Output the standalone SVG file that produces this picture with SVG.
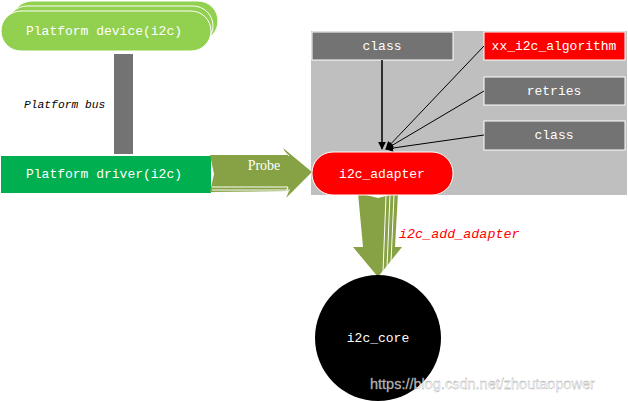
<svg xmlns="http://www.w3.org/2000/svg" width="628" height="401" viewBox="0 0 628 401">
<defs>
<style>
.t{font-family:"Liberation Mono","DejaVu Sans Mono",monospace;font-size:13px;fill:#fff;text-anchor:middle;dominant-baseline:central}
.box{fill:#737373;stroke:#fff;stroke-width:1}
.con{stroke:#000;stroke-width:1;fill:none}
.arr{fill:#86A244}
.st{stroke:#fff;stroke-width:1;fill:none}
</style>
<marker id="ah" viewBox="0 0 10 10" refX="9" refY="5" markerWidth="8" markerHeight="8" orient="auto" markerUnits="userSpaceOnUse"><path d="M0,0 L10,5 L0,10 z" fill="#000"/></marker>
</defs>
<rect width="628" height="401" fill="#fff"/>
<rect x="311" y="31" width="316" height="164" fill="#BFBFBF"/>

<g id="platform-device">
<rect x="12" y="1" width="206" height="40" rx="20" fill="#92D050" stroke="#fff"/>
<rect x="7" y="6" width="206" height="40" rx="20" fill="#92D050" stroke="#fff"/>
<rect x="1" y="11" width="210" height="40" rx="20" fill="#92D050" stroke="#fff"/>
<text class="t" x="104" y="31">Platform device(i2c)</text>
</g>

<g id="platform-bus">
<rect x="114" y="54" width="19" height="100" fill="#737373"/>
<text x="24" y="108" font-family="Liberation Mono, monospace" font-style="italic" font-size="11.3" fill="#000">Platform bus</text>
</g>

<g id="platform-driver">
<rect x="1" y="156" width="210" height="37" fill="#00B050"/>
<text class="t" x="104" y="174">Platform driver(i2c)</text>
</g>

<g id="probe-arrow">
<polygon class="arr" points="210,155 287,155 283,148 312,172 286,198 289,191 210,192 214,174"/>
<polyline class="st" points="212,187 288,187 285,195"/>
<polyline class="st" points="212,190 290,190"/>
<polyline class="st" points="285,152 289,156"/>
<text x="264" y="170" font-family="Liberation Serif, serif" font-size="14" fill="#fff" text-anchor="middle">Probe</text>
</g>

<g id="class-top">
<rect class="box" x="312" y="32" width="141" height="28"/>
<text class="t" x="382" y="46">class</text>
</g>
<g id="algorithm">
<rect x="484" y="32" width="141" height="28" fill="#FF0000" stroke="#fff"/>
<text class="t" x="554" y="46">xx_i2c_algorithm</text>
</g>
<g id="retries">
<rect class="box" x="484" y="77" width="141" height="28"/>
<text class="t" x="554" y="91">retries</text>
</g>
<g id="class-right">
<rect class="box" x="484" y="121" width="141" height="29"/>
<text class="t" x="554" y="135">class</text>
</g>

<g id="connectors">
<line x1="382" y1="60" x2="382" y2="149" stroke="#000" stroke-width="1.5" marker-end="url(#ah)"/>
<line class="con" x1="484" y1="46" x2="386" y2="149" marker-end="url(#ah)"/>
<line class="con" x1="484" y1="91" x2="386" y2="149" marker-end="url(#ah)"/>
<line class="con" x1="484" y1="135" x2="386" y2="149" marker-end="url(#ah)"/>
</g>

<g id="down-arrow">
<polygon class="arr" points="358,193 378,198 398,193 395,247 402,247 378,277 353,247 363,247"/>
<line class="st" x1="386" y1="196" x2="383" y2="272"/>
<line class="st" x1="390" y1="195" x2="387" y2="268"/>
<line class="st" x1="394" y1="195" x2="391" y2="262"/>
<text x="399" y="238" font-family="Liberation Mono, monospace" font-style="italic" font-size="13.4" fill="#FF0000">i2c_add_adapter</text>
</g>

<g id="i2c-adapter">
<rect x="312" y="152" width="141" height="43" rx="21" fill="#FF0000" stroke="#fff"/>
<text class="t" x="382" y="174">i2c_adapter</text>
</g>

<g id="i2c-core">
<circle cx="378" cy="338" r="63" fill="#000"/>
<text class="t" x="378" y="338">i2c_core</text>
</g>

<text x="370" y="389" font-family="Liberation Sans, Arial, sans-serif" font-size="14.5" fill="#fff" fill-opacity="0.75" stroke="#999" stroke-width="0.3">https://blog.csdn.net/zhoutaopower</text>
</svg>
